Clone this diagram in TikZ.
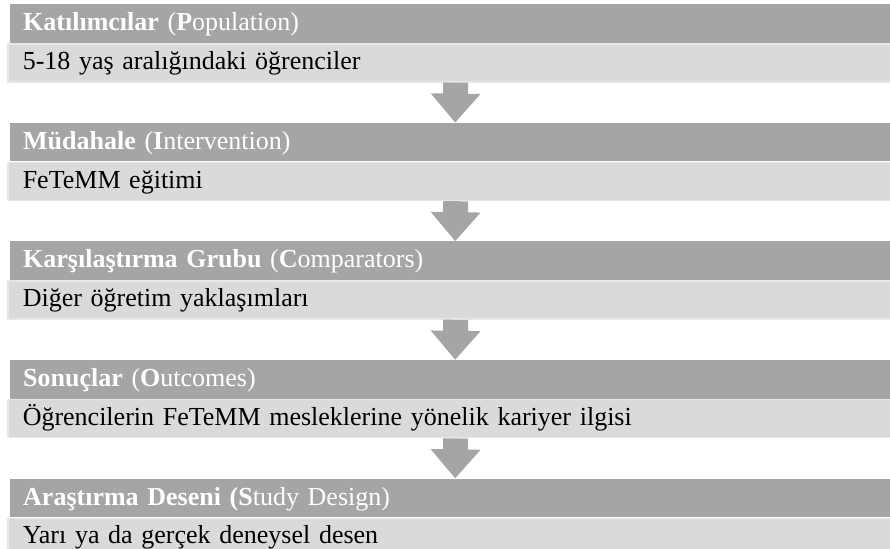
\documentclass[tikz,border=0pt]{standalone}
\usepackage{fontspec}
\setmainfont{Liberation Serif}
\usetikzlibrary{arrows.meta,positioning}
\definecolor{headgray}{HTML}{A5A5A5}
\definecolor{bodygray}{HTML}{DADADA}
\definecolor{edgegray}{HTML}{E7E7E7}

\begin{document}
\begin{tikzpicture}[
  x=1pt, y=-1pt,
  font=\fontsize{26}{30}\selectfont,
  head/.style={fill=headgray, text=white, anchor=north west, text width=864pt,
    inner xsep=13pt, inner ysep=0pt, minimum height=38.7pt, align=left,
    text height=18pt, text depth=3.7pt},
  body/.style={fill=bodygray, draw=edgegray, line width=1.5pt, anchor=north west,
    text width=866pt, inner xsep=15pt, inner ysep=0pt, minimum height=38pt,
    align=left, text height=18pt, text depth=4.8pt},
  flow/.style={-{Triangle[length=29pt,width=48pt]}, line width=25pt, headgray}
]
\useasboundingbox (0,0) rectangle (890,548);

\node[head] (pop) at (10,4) {\textbf{Katılımcılar} (\textbf{P}opulation)};
\node[body, below=0pt of pop.south west, anchor=north west, xshift=-3pt] (popb)
  {5-18 yaş aralığındaki öğrenciler};
\node[head, below=40pt of popb.south west, anchor=north west, xshift=3pt] (int)
  {\textbf{Müdahale} (\textbf{I}ntervention)};
\node[body, below=0pt of int.south west, anchor=north west, xshift=-3pt] (intb)
  {FeTeMM eğitimi};
\node[head, below=40pt of intb.south west, anchor=north west, xshift=3pt] (comp)
  {\textbf{Karşılaştırma Grubu} (\textbf{C}omparators)};
\node[body, below=0pt of comp.south west, anchor=north west, xshift=-3pt] (compb)
  {Diğer öğretim yaklaşımları};
\node[head, below=40pt of compb.south west, anchor=north west, xshift=3pt] (out)
  {\textbf{Sonuçlar} (\textbf{O}utcomes)};
\node[body, below=0pt of out.south west, anchor=north west, xshift=-3pt] (outb)
  {Öğrencilerin FeTeMM mesleklerine yönelik kariyer ilgisi};
\node[head, below=40pt of outb.south west, anchor=north west, xshift=3pt] (des)
  {\textbf{Araştırma Deseni (S}tudy Design)};
\node[body, below=0pt of des.south west, anchor=north west, xshift=-3pt] (desb)
  {Yarı ya da gerçek deneysel desen};

\draw[flow] (popb.south) -- (int.north);
\draw[flow] (intb.south) -- (comp.north);
\draw[flow] (compb.south) -- (out.north);
\draw[flow] (outb.south) -- (des.north);

\end{tikzpicture}
\end{document}
